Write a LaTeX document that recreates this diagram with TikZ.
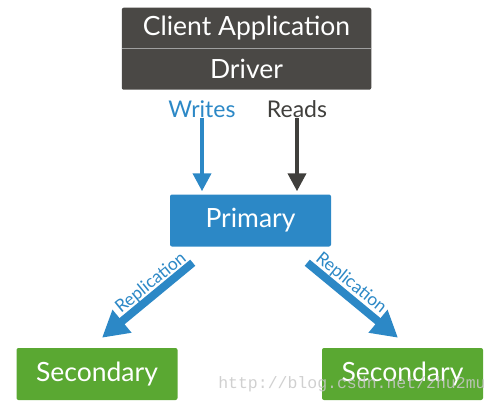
\documentclass[tikz,border=0pt]{standalone}
\usepackage{fontspec}
\setmainfont{Lato}
\setmonofont{Liberation Mono}
\usetikzlibrary{arrows.meta,positioning,backgrounds}
\definecolor{drvgray}{HTML}{4A4845}
\definecolor{prim}{HTML}{2C88C6}
\definecolor{secgreen}{HTML}{5AA832}
\definecolor{readgray}{HTML}{403F3C}
\definecolor{wmark}{HTML}{C8C8C8}
\tikzset{px/.style={x=1pt,y=-1pt,line width=.5pt},
  toptext/.style={text=white,inner sep=0pt,minimum width=249pt,font=\fontsize{26.5}{26.5}\selectfont},
  box/.style={fill=#1,text=white,rounded corners=2pt,inner sep=0pt,minimum width=161pt,minimum height=52pt,font=\fontsize{26.5}{26.5}\selectfont},
  lbl/.style={inner sep=0pt,font=\fontsize{23}{23}\selectfont},
  replbl/.style={inner sep=0pt,text=prim,font=\fontsize{17.5}{17.5}\selectfont},
  warr/.style={line width=4pt,-{Triangle[length=18pt,width=18pt]},shorten >=3pt},
  rarr/.style={line width=8pt,prim,-{Triangle[length=26pt,width=28pt]}}}
\begin{document}
\begin{tikzpicture}[px]
  \useasboundingbox (0,0) rectangle (500,409);
  % client / driver stack
  \node[toptext,minimum height=40pt] (app) at (246.5,28) {Client Application};
  \node[toptext,minimum height=41pt,below=0pt of app] (drv) {Driver};
  \begin{scope}[on background layer]
    \fill[drvgray,rounded corners=2pt] (app.north west) rectangle (drv.south east);
    \draw[gray!75,line width=1.2pt] (app.south west)--(app.south east);
  \end{scope}
  \node[lbl,text=prim] (writes) at (202,109){Writes};
  \node[lbl,text=readgray] (reads) at (297,109){Reads};
  \node[box=prim] (pri) at (250.5,220.5){Primary};
  \node[box=secgreen] (sec1) at (97,374){Secondary};
  \node[box=secgreen] (sec2) at (402.5,374){Secondary};
  \draw[warr,prim] (writes.south)--(writes.south |- pri.north);
  \draw[warr,readgray] (reads.south)--(reads.south |- pri.north);
  % replication
  \draw[rarr] ([shift={(23,16)}]pri.south west)--([shift={(5,-10)}]sec1.north);
  \draw[rarr] ([shift={(-24,16)}]pri.south east)--([shift={(-4.5,-10)}]sec2.north);
  \node[replbl,rotate=39] (repl) at (151,283){Replication};
  \node[replbl,rotate=-39] (repr) at (351,283){Replication};
  \node[font=\ttfamily\fontsize{16.5}{16.5}\selectfont,text=wmark,opacity=.85,anchor=base west,inner sep=0pt] (wm) at (218,388){http://blog.csdn.net/zhu2mu};
\end{tikzpicture}
\end{document}
